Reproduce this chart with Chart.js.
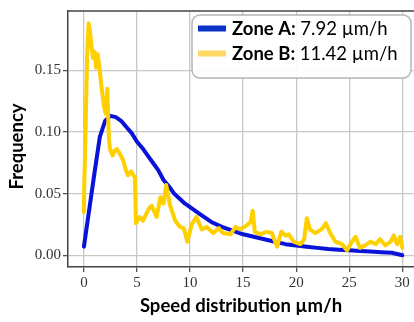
<!DOCTYPE html>
<html>
<head>
<meta charset="utf-8">
<script src="https://cdn.jsdelivr.net/npm/chart.js@4.4.1/dist/chart.umd.min.js"></script>
<style>
  html, body { margin: 0; padding: 0; background: #fff; }
  #wrap { width: 414px; height: 322px; }
</style>
</head>
<body>
<div id="wrap"><canvas id="speedChart" width="414" height="322"></canvas></div>
<script>
// Zone A (blue) speed histogram
var zoneAX = [0, 0.5, 1.0, 1.5, 2.0, 2.5, 3.0, 3.5, 4.0, 4.5, 5.0, 5.5, 6.0, 6.5, 7.0, 7.5, 8.0, 8.5, 9.0, 9.5, 10,
              11, 12, 13, 14, 15, 16, 17, 18, 19, 20, 21, 22, 23, 24, 25, 26, 27, 28, 29, 30];
var zoneAY = [0.007, 0.037, 0.067, 0.096, 0.109, 0.113, 0.112, 0.109, 0.104, 0.099, 0.092, 0.087, 0.081, 0.075, 0.069, 0.061, 0.056, 0.050, 0.046, 0.042, 0.039,
              0.033, 0.027, 0.023, 0.020, 0.017, 0.015, 0.013, 0.011, 0.009, 0.008, 0.007, 0.006, 0.005, 0.0045, 0.004, 0.0035, 0.003, 0.0025, 0.002, 0.0];

// Zone B (yellow) speed histogram
var zoneBX = [0, 0.02, 0.15, 0.3, 0.44, 0.55, 0.7, 0.85, 1.0, 1.15, 1.3, 1.5, 1.6, 1.9, 2.05, 2.2, 2.35, 2.45, 2.7, 2.9, 3.1,
              3.4, 3.7, 3.95, 4.15, 4.45, 4.8, 4.9, 5.25, 5.55, 5.9, 6.2, 6.4, 6.85, 7.2, 7.5, 7.75, 8.1, 8.6, 9.05, 9.4,
              9.75, 10.15, 10.6, 11.1, 11.55, 12.2, 12.7, 13.1, 13.8, 14.3, 14.7, 15.3, 15.7, 15.9, 16.1, 16.6, 17.2, 17.7, 18.2, 18.6,
              19.0, 19.3, 19.75, 20.4, 20.75, 21.0, 21.3, 21.8, 22.4, 22.8, 23.2, 23.7, 24.3, 24.8, 25.25, 25.6, 26.0, 26.5, 27.0, 27.5,
              27.9, 28.4, 28.9, 29.2, 29.5, 29.8, 30.0];
var zoneBY = [0.035, 0.052, 0.100, 0.160, 0.188, 0.183, 0.171, 0.160, 0.165, 0.152, 0.163, 0.150, 0.140, 0.120, 0.115, 0.135, 0.095, 0.086, 0.081, 0.085, 0.086,
              0.082, 0.077, 0.069, 0.065, 0.068, 0.063, 0.026, 0.031, 0.028, 0.034, 0.039, 0.040, 0.031, 0.047, 0.042, 0.057, 0.041, 0.028, 0.023, 0.022,
              0.011, 0.025, 0.031, 0.021, 0.023, 0.018, 0.022, 0.018, 0.017, 0.023, 0.021, 0.024, 0.027, 0.036, 0.019, 0.017, 0.019, 0.018, 0.007, 0.019,
              0.016, 0.017, 0.011, 0.009, 0.013, 0.030, 0.021, 0.018, 0.021, 0.026, 0.018, 0.011, 0.009, 0.004, 0.011, 0.015, 0.006, 0.008, 0.011, 0.009,
              0.013, 0.008, 0.011, 0.016, 0.009, 0.015, 0.006];

var xTicks = [0, 5, 10, 15, 20, 25, 30];
var yTicks = [0, 0.05, 0.10, 0.15];
var legendNames = ["Zone A:", "Zone B:"];
var legendValues = ["7.92 \u00b5m/h", "11.42 \u00b5m/h"];

var blue = "#0812d8";
var gold = "#ffd000";
var labelFont = "Lato";

function toPoints(xs, ys) {
    return xs.map(function (x, i) { return { x: x, y: ys[i] }; });
}

// top spine, y title and the boxed legend with bold names
var extras = {
    id: "extras",
    afterDraw: function (chart) {
        var ctx = chart.ctx, a = chart.chartArea;
        ctx.save();
        ctx.strokeStyle = "#444";
        ctx.lineWidth = 1.5;
        ctx.beginPath();
        ctx.moveTo(a.left, a.top);
        ctx.lineTo(a.right, a.top);
        ctx.stroke();

        ctx.fillStyle = "#000";
        ctx.font = "bold 18.5px " + labelFont;
        ctx.textAlign = "center";
        ctx.textBaseline = "middle";
        ctx.translate(17, 146.5);
        ctx.rotate(-Math.PI / 2);
        ctx.fillText("Frequency", 0, 0);
        ctx.restore();

        ctx.save();
        var bx = 192, by = 15, bw = 219, bh = 63, r = 8;
        ctx.beginPath();
        ctx.moveTo(bx + r, by);
        ctx.arcTo(bx + bw, by, bx + bw, by + bh, r);
        ctx.arcTo(bx + bw, by + bh, bx, by + bh, r);
        ctx.arcTo(bx, by + bh, bx, by, r);
        ctx.arcTo(bx, by, bx + bw, by, r);
        ctx.closePath();
        ctx.fillStyle = "rgba(255,255,255,0.92)";
        ctx.fill();
        ctx.strokeStyle = "#b5b5b5";
        ctx.lineWidth = 1.5;
        ctx.stroke();

        var rows = [28.5, 53.5];
        var cols = ["#0b34c4", "#ffd966"];
        ctx.textBaseline = "middle";
        ctx.textAlign = "left";
        for (var i = 0; i < rows.length; i++) {
            ctx.strokeStyle = cols[i];
            ctx.lineWidth = 6;
            ctx.beginPath();
            ctx.moveTo(198, rows[i]);
            ctx.lineTo(226, rows[i]);
            ctx.stroke();
            ctx.fillStyle = "#000";
            ctx.font = "bold 18.5px " + labelFont;
            ctx.fillText(legendNames[i], 232, rows[i] + 1);
            var w = ctx.measureText(legendNames[i] + " ").width;
            ctx.font = "18.5px " + labelFont;
            ctx.fillText(legendValues[i], 232 + w, rows[i] + 1);
        }
        ctx.restore();
    }
};

var tickFont = { family: "Liberation Serif", size: 15 };

new Chart(document.getElementById("speedChart"), {
    type: "line",
    data: {
        datasets: [{
            label: "Zone A",
            data: toPoints(zoneAX, zoneAY),
            borderColor: blue,
            borderWidth: 4,
            pointRadius: 0,
            borderJoinStyle: "round",
            borderCapStyle: "round",
            order: 2
        }, {
            label: "Zone B",
            data: toPoints(zoneBX, zoneBY),
            borderColor: gold,
            borderWidth: 4,
            pointRadius: 0,
            borderJoinStyle: "round",
            borderCapStyle: "round",
            order: 1
        }]
    },
    options: {
        responsive: false,
        devicePixelRatio: 1,
        animation: false,
        layout: { padding: { top: 6, left: 0, right: 0, bottom: 0 } },
        plugins: { legend: { display: false }, tooltip: { enabled: false } },
        scales: {
            x: {
                type: "linear",
                min: -1.5,
                max: 31.1,
                afterBuildTicks: function (scale) {
                    scale.ticks = xTicks.map(function (v) { return { value: v }; });
                },
                afterFit: function (scale) { scale.height = 55; },
                ticks: { font: tickFont, color: "#333", padding: 2, maxRotation: 0 },
                grid: { color: "#c8c8c8", lineWidth: 1.3, tickColor: "#555", tickLength: 5 },
                border: { color: "#444", width: 1.5 },
                title: {
                    display: true,
                    text: "Speed distribution \u00b5m/h",
                    color: "#000",
                    font: { family: labelFont, size: 18.5, weight: "bold" },
                    padding: { top: 0, bottom: 5 }
                }
            },
            y: {
                min: -0.0095,
                max: 0.198,
                afterBuildTicks: function (scale) {
                    scale.ticks = yTicks.map(function (v) { return { value: v }; });
                },
                afterFit: function (scale) { scale.width = 68; },
                ticks: {
                    font: tickFont, color: "#333", padding: 2,
                    callback: function (v) { return v.toFixed(2); }
                },
                grid: { color: "#c8c8c8", lineWidth: 1.3, tickColor: "#555", tickLength: 5 },
                border: { color: "#444", width: 1.5 }
            }
        }
    },
    plugins: [extras]
});
</script>
</body>
</html>
